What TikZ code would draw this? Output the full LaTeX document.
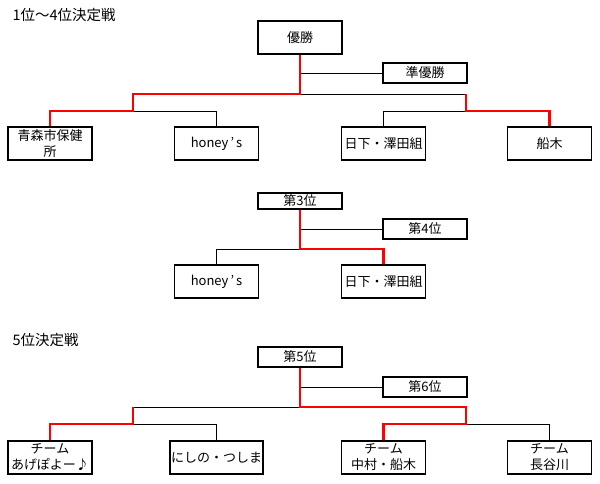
\documentclass[tikz,border=0pt]{standalone}
\usepackage{fontspec}
\setmainfont{Noto Sans CJK JP}
\usetikzlibrary{positioning}

\begin{document}
\begin{tikzpicture}[x=1pt,y=-1pt,
  font=\fontsize{13}{16}\selectfont,
  team/.style={draw,line width=1.1pt,minimum width=84pt,minimum height=33pt,inner sep=1pt,align=center},
  rank/.style={draw,line width=1.1pt,minimum width=84pt,minimum height=20pt,inner sep=0pt},
  title/.style={anchor=west,font=\fontsize{14.5}{17}\selectfont},
  lose/.style={line width=1pt},
  win/.style={red,line width=2.4pt}]
  \useasboundingbox (0,0) rectangle (600,483);
  % 1-4
  \node[title] (ttlA) at (9,15) {1位～4位決定戦};
  \node[team] (champ) at (300,37.5) {優勝};
  \node[rank] (second) at (425,73) {準優勝};
  \node[team] (aomori) at (50,143.5) {青森市保健\\所};
  \node[team] (honeyA) at (216.5,143.5) {honey\kern2pt’\kern2pt s};
  \node[team] (kusakaA) at (383.5,143.5) {日下・澤田組};
  \node[team] (funaki) at (549.5,143.5) {船木};
  \coordinate (splitA) at (300,94);
  \coordinate (leftA) at (133,111);
  \coordinate (rightA) at (466,111);
  \draw[lose] (second.west) -- (second.west -| champ.south);
  \draw[lose] (splitA) -- (splitA -| rightA);
  \draw[lose] (leftA) -| (honeyA.north);
  \draw[lose] (rightA) -| (kusakaA.north);
  \draw[win] (champ.south) -- (splitA) -| (leftA) -| (aomori.north);
  \draw[win] (splitA -| rightA) -- (rightA) -| (funaki.north);
  % 3-4
  \node[rank,minimum height=16pt] (third) at (300,201) {第3位};
  \node[rank] (fourth) at (425,229) {第4位};
  \node[team] (honeyB) at (216.5,281.5) {honey\kern2pt’\kern2pt s};
  \node[team] (kusakaB) at (383.5,281.5) {日下・澤田組};
  \coordinate (splitB) at (300,249);
  \draw[lose] (fourth.west) -- (fourth.west -| third.south);
  \draw[lose] (splitB) -| (honeyB.north);
  \draw[win] (third.south) -- (splitB) -| (kusakaB.north);
  % 5
  \node[title] (ttlB) at (9,340) {5位決定戦};
  \node[rank] (fifth) at (300,357) {第5位};
  \node[rank] (sixth) at (425,387) {第6位};
  \node[team] (akebono) at (50,457.5) {チーム\\あげぽよー♪};
  \node[team] (nishino) at (216.5,457.5) {にしの・つしま};
  \node[team] (nakamura) at (383.5,457.5) {チーム\\中村・船木};
  \node[team] (hasegawa) at (549.5,457.5) {チーム\\長谷川};
  \coordinate (splitC) at (300,407);
  \coordinate (leftC) at (133,424);
  \coordinate (rightC) at (466,424);
  \draw[lose] (sixth.west) -- (sixth.west -| fifth.south);
  \draw[lose] (splitC) -- (splitC -| leftC);
  \draw[lose] (leftC) -| (nishino.north);
  \draw[lose] (rightC) -| (hasegawa.north);
  \draw[win] (fifth.south) -- (splitC) -| (rightC) -| (nakamura.north);
  \draw[win] (splitC -| leftC) -- (leftC) -| (akebono.north);
\end{tikzpicture}
\end{document}
